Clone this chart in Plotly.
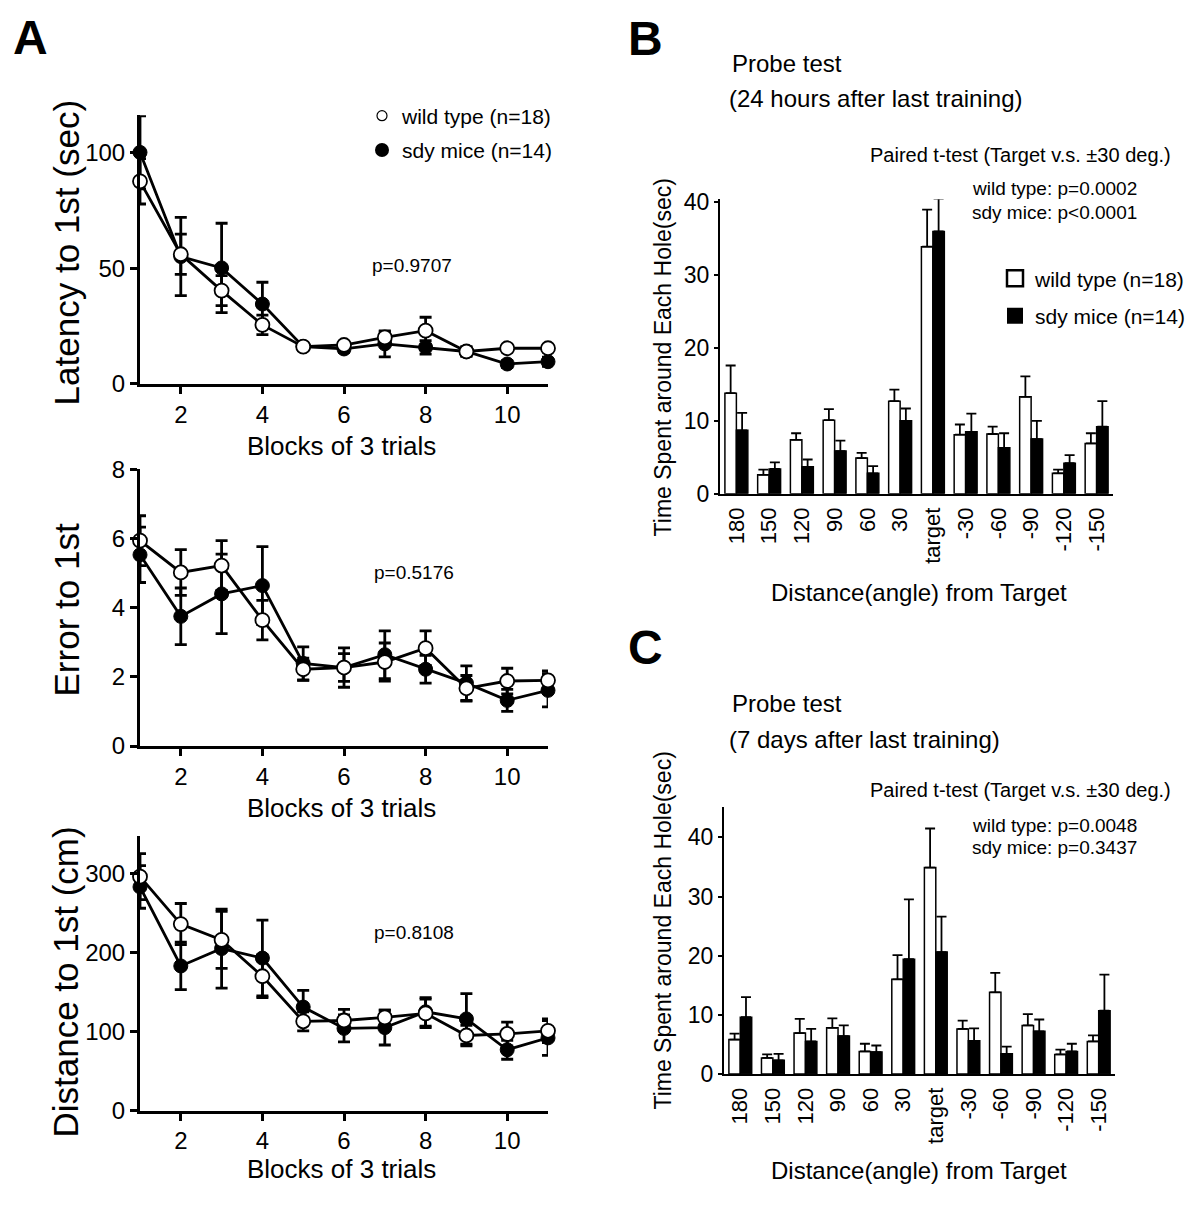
import plotly.graph_objects as go

# ---------------- data ----------------
blocks = [1, 2, 3, 4, 5, 6, 7, 8, 9, 10, 11]

lat_wt = [87.5, 56, 40.3, 25.5, 16.1, 16.8, 20.1, 23.0, 14.0, 15.4, 15.4]
lat_wt_err = [9.8, 8.7, 6.5, 4.2, 1.5, 1.5, 2.5, 5.8, 2.0, 1.5, 1.5]
lat_sdy = [100, 55, 50.1, 34.5, 16.1, 15.1, 17.3, 15.8, 14.0, 8.6, 9.6]
lat_sdy_err = [15.8, 16.9, 19.3, 9.4, 1.5, 1.5, 5.6, 2.9, 2.0, 1.5, 2.0]

err_wt = [5.94, 5.02, 5.22, 3.64, 2.22, 2.27, 2.43, 2.83, 1.67, 1.88, 1.90]
err_wt_e = [0.72, 0.66, 0.72, 0.57, 0.32, 0.40, 0.55, 0.50, 0.37, 0.37, 0.27]
err_sdy = [5.53, 3.75, 4.40, 4.64, 2.39, 2.27, 2.64, 2.22, 1.82, 1.32, 1.61]
err_sdy_e = [0.80, 0.82, 1.15, 1.13, 0.48, 0.57, 0.69, 0.40, 0.50, 0.32, 0.48]

dist_wt = [296, 236, 216, 170, 113, 114, 118, 123, 95, 97, 101]
dist_wt_e = [29, 26, 36, 27, 12, 14, 9, 18, 13, 15, 15]
dist_sdy = [283, 183, 205, 193, 131, 104, 105, 125, 116, 77, 92]
dist_sdy_e = [27, 30, 50, 48, 21, 17, 22, 18, 32, 12, 22]

angles = ["180", "150", "120", "90", "60", "30", "target",
          "-30", "-60", "-90", "-120", "-150"]

b_wt = [13.8, 2.6, 7.4, 10.1, 4.9, 12.7, 33.9, 8.1, 8.2, 13.3, 2.8, 6.9]
b_wt_err = [3.8, 0.7, 0.9, 1.5, 0.7, 1.6, 5.1, 1.4, 1.0, 2.8, 0.5, 1.4]
b_sdy = [8.7, 3.4, 3.7, 5.85, 2.8, 10.0, 36.0, 8.5, 6.3, 7.5, 4.2, 9.2]
b_sdy_err = [2.4, 0.9, 1.0, 1.45, 1.0, 1.7, 4.5, 2.5, 2.0, 2.5, 1.1, 3.5]

c_wt = [5.8, 2.7, 6.9, 7.8, 3.8, 16.0, 34.9, 7.6, 13.8, 8.2, 3.3, 5.5]
c_wt_err = [1.0, 0.6, 2.4, 1.6, 1.3, 4.1, 6.6, 1.4, 3.3, 1.9, 0.8, 1.0]
c_sdy = [9.6, 2.3, 5.5, 6.4, 3.7, 19.4, 20.6, 5.6, 3.4, 7.2, 3.8, 10.7]
c_sdy_err = [3.4, 1.1, 2.1, 1.8, 1.1, 10.1, 6.0, 2.1, 1.2, 2.0, 1.3, 6.1]

wt_label = "wild type (n=18)"
sdy_label = "sdy mice (n=14)"

# ---------------- layout helpers ----------------
W, H = 1200, 1220
FONT = "Liberation Sans, Arial, Helvetica, sans-serif"


def px(x):
    return x / W


def Y(t):
    # vertical page position that lands on target pixel t in the photographed picture
    return t / 0.9776 - 14


def py(t):
    return 1 - Y(t) / H


fig = go.Figure()


def line_pair(xa, ya, wt, wte, sdy, sdye):
    fig.add_trace(go.Scatter(
        x=blocks, y=sdy, mode="lines+markers", xaxis=xa, yaxis=ya,
        line=dict(color="black", width=2.8),
        marker=dict(size=14, color="black", line=dict(color="black", width=1)),
        error_y=dict(type="data", array=sdye, color="black", thickness=2.8, width=6),
        showlegend=False, cliponaxis=False))
    fig.add_trace(go.Scatter(
        x=blocks, y=wt, mode="lines+markers", xaxis=xa, yaxis=ya,
        line=dict(color="black", width=2.8),
        marker=dict(size=14, color="white", line=dict(color="black", width=1.8)),
        error_y=dict(type="data", array=wte, color="black", thickness=2.8, width=6),
        showlegend=False, cliponaxis=False))


line_pair("x", "y", lat_wt, lat_wt_err, lat_sdy, lat_sdy_err)
line_pair("x2", "y2", err_wt, err_wt_e, err_sdy, err_sdy_e)
line_pair("x3", "y3", dist_wt, dist_wt_e, dist_sdy, dist_sdy_e)

# legend entries for panel A
fig.add_trace(go.Scatter(x=[None], y=[None], mode="markers", name=wt_label,
                         marker=dict(size=10, color="white", line=dict(color="black", width=1.2)),
                         legend="legend", legendgroup="a1"))
fig.add_trace(go.Scatter(x=[None], y=[None], mode="markers", name=sdy_label,
                         marker=dict(size=14, color="black"),
                         legend="legend", legendgroup="a2"))


def bar_pair(xa, ya, wt, wte, sdy, sdye):
    fig.add_trace(go.Bar(
        x=angles, y=wt, xaxis=xa, yaxis=ya,
        marker=dict(color="white", line=dict(color="black", width=1.5)),
        error_y=dict(type="data", array=wte, arrayminus=[0] * len(wte), symmetric=False,
                     color="black", thickness=1.8, width=5),
        showlegend=False))
    fig.add_trace(go.Bar(
        x=angles, y=sdy, xaxis=xa, yaxis=ya,
        marker=dict(color="black", line=dict(color="black", width=1.5)),
        error_y=dict(type="data", array=sdye, arrayminus=[0] * len(sdye), symmetric=False,
                     color="black", thickness=1.8, width=5),
        showlegend=False))


bar_pair("x4", "y4", b_wt, b_wt_err, b_sdy, b_sdy_err)
bar_pair("x5", "y5", c_wt, c_wt_err, c_sdy, c_sdy_err)

fig.add_trace(go.Scatter(x=[None], y=[None], mode="markers", name=wt_label,
                         marker=dict(symbol="square", size=18, color="white",
                                     line=dict(color="black", width=2.5)),
                         legend="legend2", legendgroup="b1"))
fig.add_trace(go.Scatter(x=[None], y=[None], mode="markers", name=sdy_label,
                         marker=dict(symbol="square", size=18, color="black"),
                         legend="legend2", legendgroup="b2"))

# ---------------- axes ----------------
A_axis = dict(showline=True, linecolor="black", linewidth=3, ticks="outside",
              ticklen=7, tickwidth=3, tickcolor="black", showgrid=False, zeroline=False,
              tickfont=dict(family=FONT, size=24, color="black"))
xA = dict(A_axis, range=[1, 11], tickvals=[2, 4, 6, 8, 10], domain=[px(140), px(548)])

BC_y = dict(showline=True, linecolor="black", linewidth=2, ticks="outside", ticklen=4,
            tickwidth=2, tickcolor="black", showgrid=False, zeroline=False,
            tickvals=[0, 10, 20, 30, 40],
            tickfont=dict(family=FONT, size=23, color="black"))
BC_x = dict(showline=True, linecolor="black", linewidth=2, ticks="", showgrid=False,
            zeroline=False, tickangle=-90, type="category", ticklabelstandoff=3,
            tickfont=dict(family=FONT, size=22, color="black"))

fig.update_layout(
    width=W, height=H, margin=dict(l=0, r=0, t=0, b=0),
    paper_bgcolor="white", plot_bgcolor="white",
    font=dict(family=FONT, color="black"),
    barmode="group", bargap=0.3, bargroupgap=0,
    xaxis=dict(xA, anchor="y"),
    yaxis=dict(A_axis, range=[0, 116], tickvals=[0, 50, 100], anchor="x",
               domain=[py(383.5), py(115)]),
    xaxis2=dict(xA, anchor="y2"),
    yaxis2=dict(A_axis, range=[0, 8], tickvals=[0, 2, 4, 6, 8], anchor="x2",
                domain=[py(745.5), py(469)]),
    xaxis3=dict(xA, anchor="y3"),
    yaxis3=dict(A_axis, range=[0, 348], tickvals=[0, 100, 200, 300], anchor="x3",
                domain=[py(1110), py(835)]),
    xaxis4=dict(BC_x, anchor="y4", domain=[px(720), px(1113)]),
    yaxis4=dict(BC_y, range=[0, 40.4], anchor="x4", domain=[py(493.3), py(199)]),
    xaxis5=dict(BC_x, anchor="y5", domain=[px(724), px(1115)]),
    yaxis5=dict(BC_y, range=[0, 45.1], anchor="x5", domain=[py(1073.3), py(806.7)]),
    legend=dict(x=px(362), y=1 - (Y(116.7) - 22) / H, xanchor="left", yanchor="top",
                font=dict(family=FONT, size=21, color="black"),
                bgcolor="rgba(0,0,0,0)", tracegroupgap=4, itemsizing="trace"),
    legend2=dict(x=px(995), y=1 - (Y(280) - 22.7) / H, xanchor="left", yanchor="top",
                 font=dict(family=FONT, size=21, color="black"),
                 bgcolor="rgba(0,0,0,0)", tracegroupgap=7, itemsizing="trace"),
)

# ---------------- annotations ----------------
ann = []


def text(x, y, s, size, xanchor="center", angle=0, bold=False):
    ann.append(dict(x=px(x), y=py(y), xref="paper", yref="paper", text=s,
                    showarrow=False, xanchor=xanchor, yanchor="middle",
                    textangle=angle,
                    font=dict(family=FONT, size=size, color="black",
                              weight="bold" if bold else "normal")))


text(30, 37, "A", 48, bold=True)
text(645, 38, "B", 48, bold=True)
text(645, 647, "C", 48, bold=True)

text(66, 253, "Latency to 1st (sec)", 35, angle=-90)
text(66, 610, "Error to 1st", 35, angle=-90)
text(66, 982, "Distance to 1st (cm)", 35, angle=-90)
for yy in (446, 807, 1168):
    text(342, yy, "Blocks of 3 trials", 26)
text(412, 265, "p=0.9707", 19)
text(414, 572, "p=0.5176", 19)
text(414, 932, "p=0.8108", 19)

# panel B
text(730, 63, "Probe test", 24, xanchor="left")
text(727, 98, "(24 hours after last training)", 24, xanchor="left")
text(1020, 155, "Paired t-test (Target v.s. ±30 deg.)", 20)
text(970, 188, "wild type: p=0.0002", 19, xanchor="left")
text(970, 212, "sdy mice: p<0.0001", 19, xanchor="left")
text(663, 357, "Time Spent around Each Hole(sec)", 23, angle=-90)
text(919, 592, "Distance(angle) from Target", 24)

# panel C
text(730, 703, "Probe test", 24, xanchor="left")
text(727, 739, "(7 days after last training)", 24, xanchor="left")
text(1020, 789, "Paired t-test (Target v.s. ±30 deg.)", 20)
text(970, 825, "wild type: p=0.0048", 19, xanchor="left")
text(970, 847, "sdy mice: p=0.3437", 19, xanchor="left")
text(663, 930, "Time Spent around Each Hole(sec)", 23, angle=-90)
text(919, 1170, "Distance(angle) from Target", 24)

fig.update_layout(annotations=ann)

fig.write_html("out.html", config={"displayModeBar": False},
               post_script="document.body.style.margin='0px';")
